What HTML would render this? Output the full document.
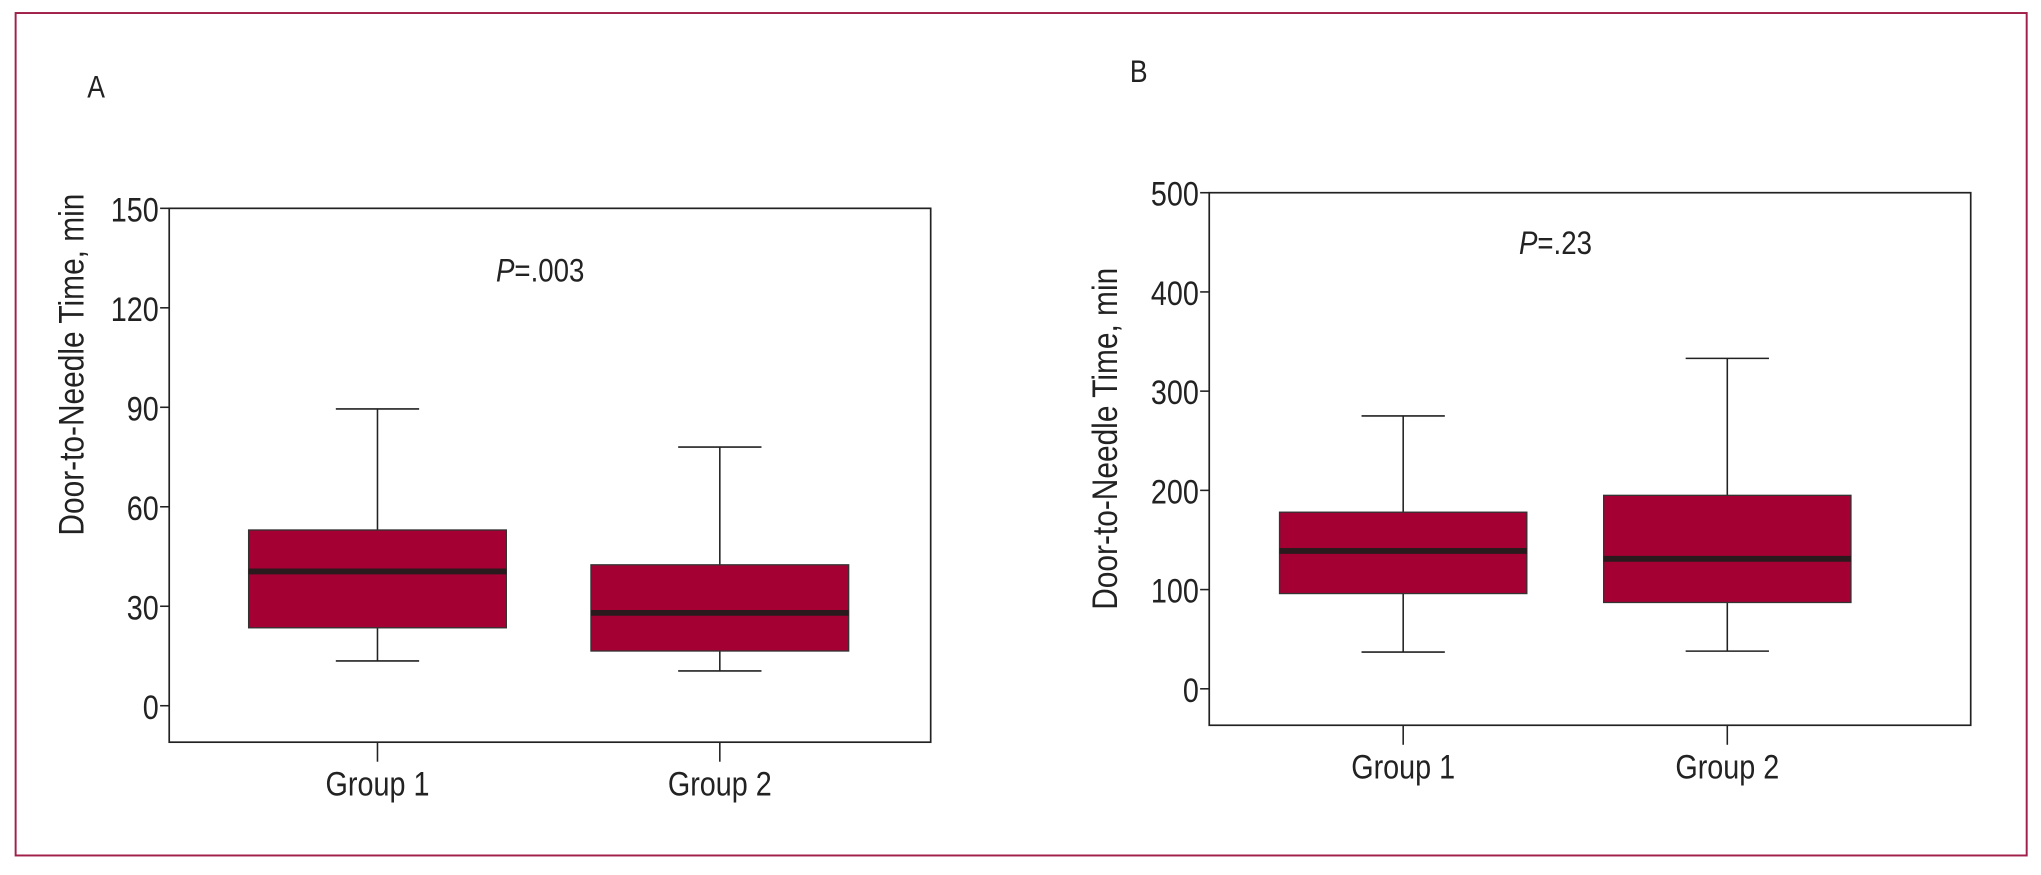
<!DOCTYPE html>
<html><head><meta charset="utf-8"><style>
html,body{margin:0;padding:0;background:#fff}
svg{display:block}
text{font-family:"Liberation Sans Narrow","Liberation Sans",sans-serif;fill:#222}
</style></head><body>
<svg id="c" width="2041" height="875" viewBox="0 0 1568 672" preserveAspectRatio="none">
<rect x="12" y="10" width="1545" height="647" fill="none" stroke="#a0204a" stroke-width="1.5"/>
</svg>
<script>
const groups=["Group 1","Group 2"];
const aTicks=[0,30,60,90,120,150];
const aMin=[13.5,10.5];
const aQ1=[23.5,16.5];
const aMed=[40.5,28];
const aQ3=[53,42.5];
const aMax=[89.5,78];
const bTicks=[0,100,200,300,400,500];
const bMin=[37,38];
const bQ1=[96,87];
const bMed=[139,131];
const bQ3=[178,195];
const bMax=[275,333];

const svg=document.getElementById('c');
const NS='http://www.w3.org/2000/svg';
const SX=0.85;
function mk(tag,attrs,parent){const e=document.createElementNS(NS,tag);for(const k in attrs)e.setAttribute(k,attrs[k]);(parent||svg).appendChild(e);return e;}
function txt(x,y,s,anchor,size,parent,rot){
  const t=mk('text',{x:0,y:0,'text-anchor':anchor,'font-size':size,transform:`translate(${x},${y})${rot?' rotate(-90)':''} scale(${SX},1)`},parent);
  t.textContent=s;return t;
}

function panel(p){
  const g=mk('g',{});
  
  
  const y=v=>p.y0+(v-p.tmin)/(p.tmax-p.tmin)*(p.y1-p.y0);
  const frame=mk('rect',{x:p.left,y:p.top,width:p.right-p.left,height:p.bottom-p.top,fill:'none',stroke:'#222','stroke-width':1.3},g);
  
  
  p.ticks.forEach(t=>{
    const ty=y(t);
    const tl=mk('line',{x1:p.left-7,x2:p.left,y1:ty,y2:ty,stroke:'#222','stroke-width':1.2},g);
    
    
    const tx=txt(p.left-8,ty+10,String(t),'end',26,g);
    
    
  });
  const yt=txt(p.ytx,p.ytc,'Door-to-Needle Time, min','middle',27,g,true);
  
  
  const lab=txt(p.lx,p.ly,p.id,'start',24,g);
  
  
  const pv=mk('text',{x:0,y:0,'text-anchor':'middle','font-size':25,transform:`translate(${p.px},${p.py}) scale(${SX},1)`},g);
  const it=mk('tspan',{'font-style':'italic'},pv);it.textContent='P';
  const rest=mk('tspan',{},pv);rest.textContent=p.pval;
  
  
  groups.forEach((name,i)=>{
    const cx=p.cx[i],hw=p.hw,cw=32;
    const bg=mk('g',{},g);
    
    
    mk('line',{x1:cx,x2:cx,y1:y(p.max[i]),y2:y(p.q3[i]),stroke:'#222','stroke-width':1.2},bg);
    mk('line',{x1:cx,x2:cx,y1:y(p.q1[i]),y2:y(p.min[i]),stroke:'#222','stroke-width':1.2},bg);
    mk('line',{x1:cx-cw,x2:cx+cw,y1:y(p.max[i]),y2:y(p.max[i]),stroke:'#222','stroke-width':1.2},bg);
    mk('line',{x1:cx-cw,x2:cx+cw,y1:y(p.min[i]),y2:y(p.min[i]),stroke:'#222','stroke-width':1.2},bg);
    mk('rect',{x:cx-hw,y:y(p.q3[i]),width:2*hw,height:y(p.q1[i])-y(p.q3[i]),fill:'#a50034',stroke:'#333','stroke-width':1},bg);
    mk('line',{x1:cx-hw,x2:cx+hw,y1:y(p.med[i]),y2:y(p.med[i]),stroke:'#2a1a1e','stroke-width':4.5},bg);
    const xt=mk('line',{x1:cx,x2:cx,y1:p.bottom,y2:p.bottom+15,stroke:'#222','stroke-width':1.2},g);
    
    
    const xl=txt(cx,p.bottom+41,name,'middle',26,g);
    
    
  });
}
panel({id:'A',left:130,top:160,right:715,bottom:570,y0:542,y1:160,tmin:0,tmax:150,ticks:aTicks,
  min:aMin,q1:aQ1,med:aMed,q3:aQ3,max:aMax,cx:[290,553],hw:99,ytx:64,ytc:280,lx:67,ly:75,px:415,py:216,pval:'=.003'});
panel({id:'B',left:929,top:148,right:1514,bottom:557,y0:529,y1:148,tmin:0,tmax:500,ticks:bTicks,
  min:bMin,q1:bQ1,med:bMed,q3:bQ3,max:bMax,cx:[1078,1327],hw:95,ytx:858,ytc:337,lx:868,ly:63,px:1195,py:195,pval:'=.23'});
</script>
</body></html>
